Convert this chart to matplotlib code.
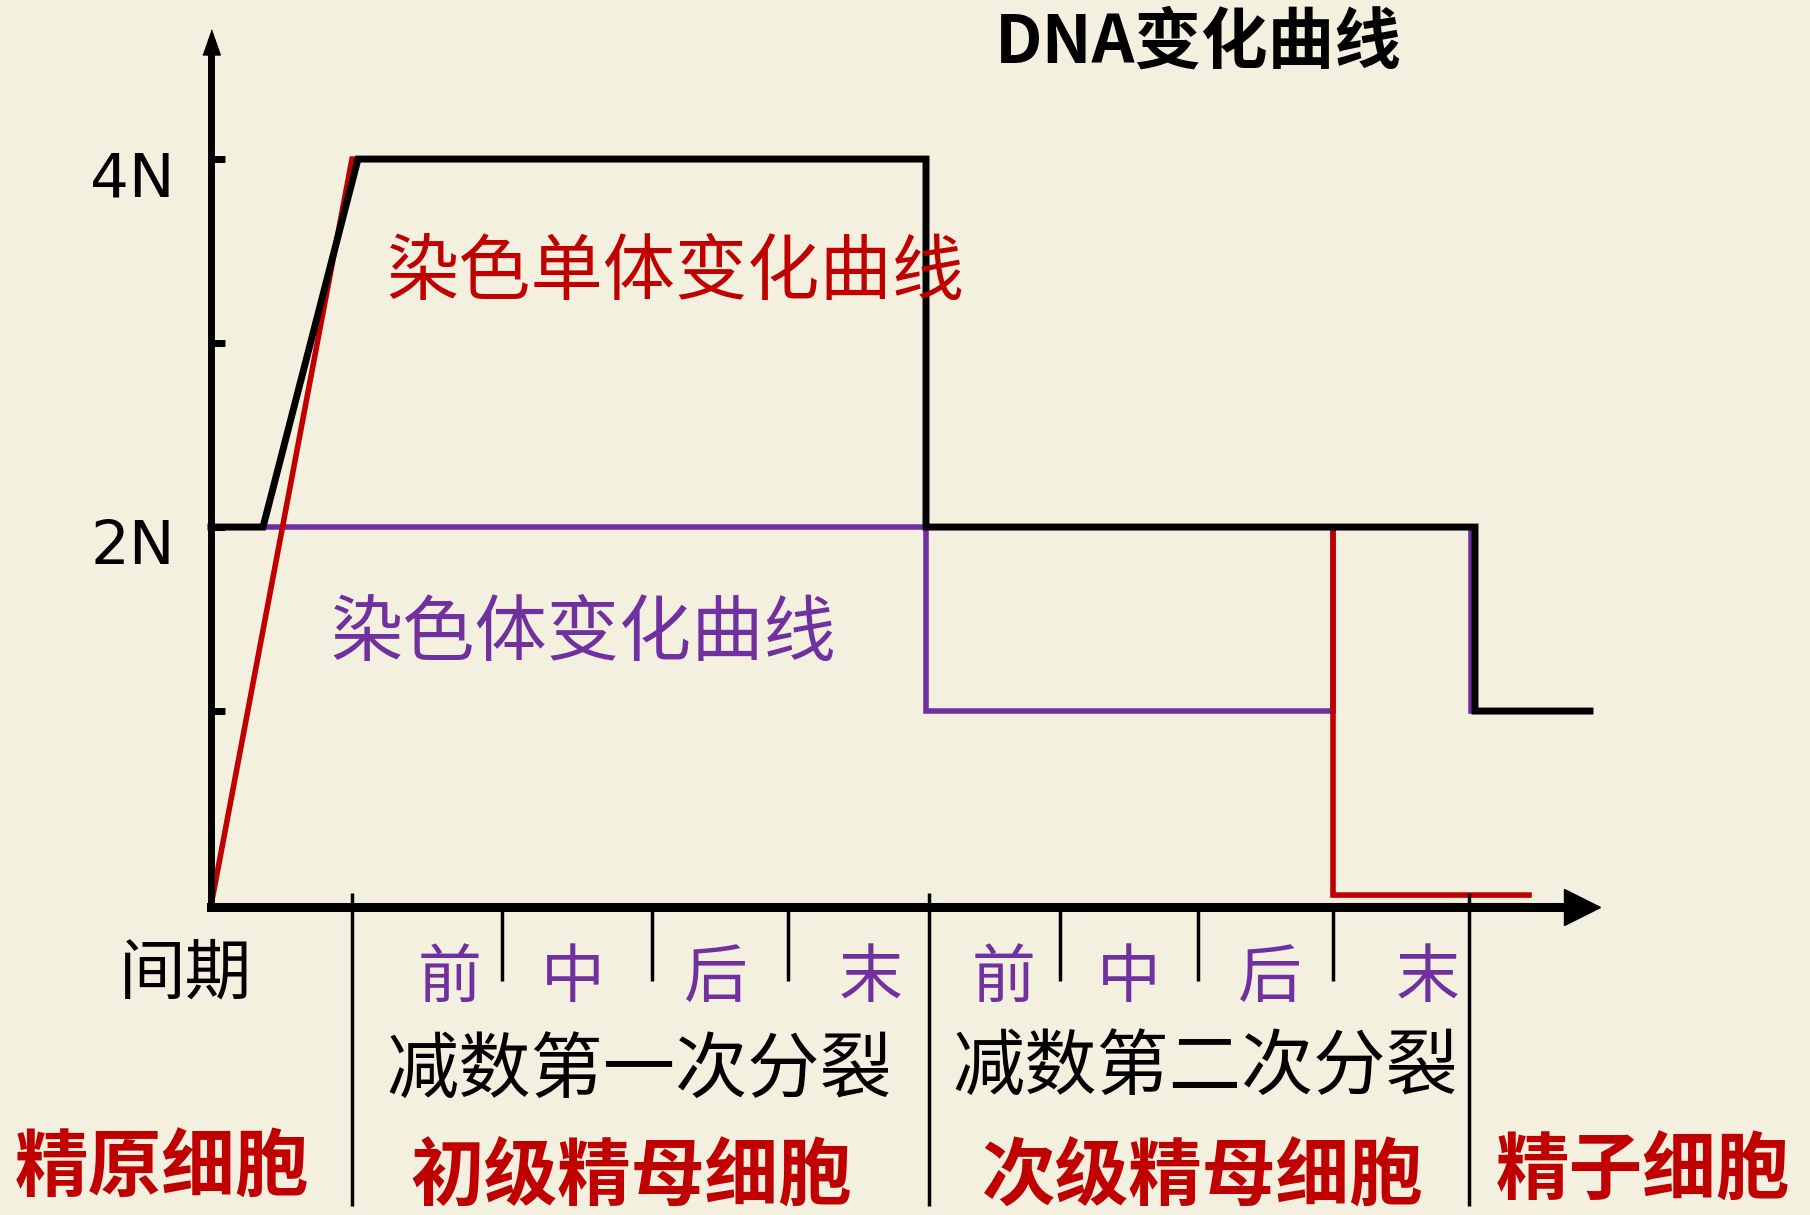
import matplotlib
matplotlib.use("Agg")
import matplotlib.pyplot as plt
from matplotlib.transforms import ScaledTranslation

plt.rcParams['font.family'] = ['Noto Sans CJK SC', 'DejaVu Sans']

# time axis in arbitrary units (y-axis at 0), amounts in N
dna_x = [0, 0.52, 1.47, 7.15, 7.15, 12.64, 12.64, 13.79]
dna_y = [2, 2, 4, 4, 2, 2, 1, 1]
chromatid_x = [0.02, 1.41, 7.15, 7.15, 11.22, 11.22, 13.18]
chromatid_y = [0, 4, 4, 2, 2, 0, 0]
chromosome_x = [0.52, 7.15, 7.15, 11.22, 11.22, 12.60, 12.60]
chromosome_y = [2, 2, 1, 1, 2, 2, 1]

stage_bounds = [1.41, 7.18, 12.58]          # cell type boundaries
phase_bounds = [2.91, 4.41, 5.77, 8.49, 9.87, 11.22]
phase_names = ['前', '中', '后', '末', '前', '中', '后', '末']
phase_pos = [2.39, 3.62, 5.05, 6.60, 7.93, 9.18, 10.59, 12.17]
ytick_vals = [1, 2, 3, 4]
ytick_labels = ['', '2N', '', '4N']

bg = '#F4F0E0'
red = '#C00000'
purple = '#7030A0'

W, H = 1810, 1215
fig = plt.figure(figsize=(W / 100, H / 100), dpi=100, facecolor=bg)


def px(x, y):
    return x / W, 1 - y / H


ax = fig.add_axes([211 / W, (H - 907) / H, (1582 - 211) / W, (907 - 41.5) / H])
ax.set_facecolor(bg)
ax.set_xlim(0, 13.71)
ax.set_ylim(-0.065, 4.639)

for s in ['top', 'right']:
    ax.spines[s].set_visible(False)
ax.spines['bottom'].set_linewidth(6.5)
ax.spines['left'].set_linewidth(5)

# arrow heads
ax.plot(1, 0, marker='>', ms=26, color='k', transform=ax.transAxes, clip_on=False)
ax.plot(0, 1, marker=[(-0.35, -0.5), (0.35, -0.5), (0, 0.5)], ms=18, color='k',
        transform=ax.transAxes, clip_on=False)

ax.plot(chromosome_x, chromosome_y, color=purple, lw=4, clip_on=False, solid_joinstyle='miter')
ax.plot(chromatid_x, chromatid_y, color=red, lw=4, clip_on=False, solid_joinstyle='miter')
ax.plot(dna_x, dna_y, color='k', lw=5, clip_on=False, solid_joinstyle='miter')

ax.set_yticks(ytick_vals)
ax.set_yticklabels(ytick_labels, fontsize=44, family=['Liberation Sans Narrow', 'DejaVu Sans'])
ax.tick_params(axis='y', direction='in', length=10, width=5, pad=26)
for lab in ax.get_yticklabels():
    lab.set_transform(lab.get_transform() + ScaledTranslation(0, -0.14, fig.dpi_scale_trans))

ax.set_xticks(phase_bounds)
ax.set_xticklabels([])
ax.tick_params(axis='x', direction='out', length=53, width=2.5)

ax.vlines(stage_bounds, -0.3455, 0.016, color='k', lw=2.5,
          transform=ax.get_xaxis_transform(), clip_on=False)

# labels
fig.text(*px(1198, 43), 'DNA变化曲线', fontsize=48, weight='bold', ha='center', va='center')
fig.text(*px(675, 274), '染色单体变化曲线', fontsize=52, color=red, ha='center', va='center')
fig.text(*px(583, 635), '染色体变化曲线', fontsize=52, color=purple, ha='center', va='center')

for name, x in zip(phase_names, phase_pos):
    ax.text(x, (907 - 979) / 865.5, name, fontsize=46, color=purple, ha='center', va='center',
            transform=ax.get_xaxis_transform())

fig.text(*px(185, 975), '间期', fontsize=48, ha='center', va='center')
fig.text(*px(639, 1071), '减数第一次分裂', fontsize=52, ha='center', va='center')
fig.text(*px(1205, 1068), '减数第二次分裂', fontsize=52, ha='center', va='center')

cells = ['精原细胞', '初级精母细胞', '次级精母细胞', '精子细胞']
cell_px = [(162, 1169), (631, 1177), (1203, 1177), (1643, 1172)]
for name, (x, y) in zip(cells, cell_px):
    fig.text(*px(x, y), name, fontsize=53, color=red, weight='bold', ha='center', va='center')

fig.savefig('out.png', dpi=100, facecolor=bg)
